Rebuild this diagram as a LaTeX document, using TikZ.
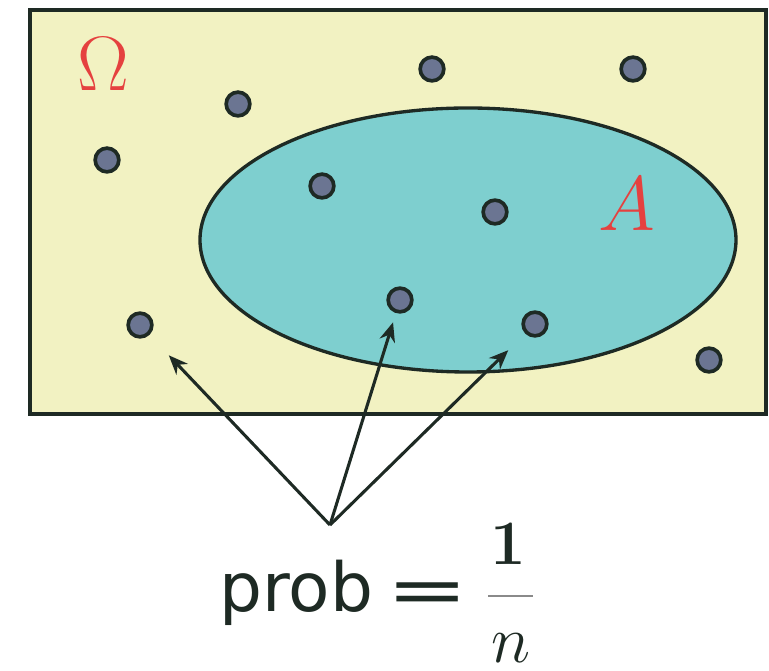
\RequirePackage{fix-cm}
\documentclass[tikz,border=0pt]{standalone}
\usepackage{fontspec}
\newfontfamily\dejavu{DejaVu Sans}
\usetikzlibrary{arrows.meta}
\definecolor{bgyellow}{HTML}{F2F2C2}
\definecolor{setteal}{HTML}{7ECFCF}
\definecolor{edgedark}{HTML}{1E2A24}
\definecolor{dotfill}{HTML}{6B7592}
\definecolor{labelred}{HTML}{E5413F}
\definecolor{bargray}{HTML}{8A8A8A}
\tikzset{
  pt/.style={circle, draw=edgedark, fill=dotfill, line width=2.1pt, minimum size=13.5pt, inner sep=0pt},
  ptr/.style={-{Stealth[length=11pt,width=9pt]}, line width=1.75pt, draw=edgedark},
  biglabel/.style={text=labelred, inner sep=0pt, font=\fontsize{44}{44}\selectfont}
}
\begin{document}
\begin{tikzpicture}[x=0.02cm, y=-0.02cm]
\useasboundingbox (0,0) rectangle (769,671);
% sample space
\draw[line width=2.3pt, draw=edgedark, fill=bgyellow] (30,10) rectangle (766,414);
% event A
\draw[line width=1.9pt, draw=edgedark, fill=setteal] (468,240) ellipse [x radius=268, y radius=132];
% labels
\node[biglabel] (omega) at (103,64) {$\Omega$};
\node[biglabel] (alabel) at (627,204) {$A$};
% sample points
\node[pt] (p1) at (238,104) {};
\node[pt] (p2) at (107,160) {};
\node[pt] (p3) at (432,69) {};
\node[pt] (p4) at (633,69) {};
\node[pt] (p5) at (322,186) {};
\node[pt] (p6) at (495,212) {};
\node[pt] (p7) at (400,300) {};
\node[pt] (p8) at (535,324) {};
\node[pt] (p9) at (140,325) {};
\node[pt] (p10) at (709,360) {};
% arrows
\coordinate (apex) at (330,525);
\draw[ptr, shorten >=16pt] (apex) -- (p9);
\draw[ptr, shorten >=5.5pt] (apex) -- (p7);
\draw[ptr, shorten >=13.5pt] (apex) -- (p8);
% formula
\node[anchor=base west, inner sep=0pt, text=edgedark, font=\dejavu\fontsize{38.5}{38.5}\selectfont] (prob) at (219,612) {prob};
\node[inner sep=0pt, text=edgedark, xscale=1.45, font=\dejavu\fontsize{38.5}{38.5}\selectfont] (eq) at (428,598.5) {=};
\node[anchor=base, inner sep=0pt, text=edgedark, font=\fontsize{36}{36}\selectfont\bfseries] (num) at (508,565) {1};
\draw[line width=1.5pt, draw=bargray] (488,596) -- (533,596);
\node[anchor=base, inner sep=0pt, text=edgedark, font=\fontsize{38}{38}\selectfont] (den) at (511,663) {$n$};
\end{tikzpicture}
\end{document}
